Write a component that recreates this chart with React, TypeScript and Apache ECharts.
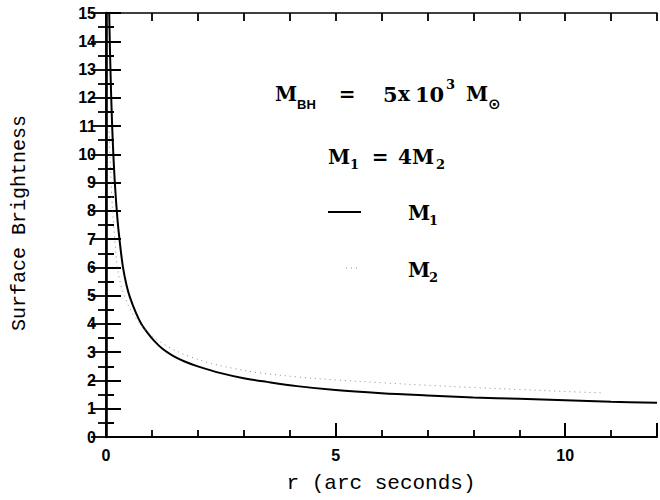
import React, { useEffect, useRef } from "react";
import * as echarts from "echarts";

// r (arc seconds) and surface brightness
const m1R = [0.05, 0.07, 0.1, 0.13, 0.16, 0.2, 0.25, 0.3, 0.37, 0.45, 0.52, 0.65, 0.77, 0.9, 1.05, 1.23, 1.45, 1.7, 2.0, 2.5, 3.0, 3.5, 4.16, 5, 6, 7, 8, 9, 10, 11, 12];
const m1V = [17.5, 15, 12.8, 11.2, 10, 8.8, 7.7, 6.9, 6.0, 5.35, 4.95, 4.4, 4.0, 3.7, 3.4, 3.12, 2.88, 2.68, 2.5, 2.26, 2.08, 1.95, 1.8, 1.66, 1.55, 1.47, 1.4, 1.35, 1.3, 1.25, 1.21];
const m2R = [0.07, 0.09, 0.12, 0.16, 0.2, 0.25, 0.32, 0.41, 0.52, 0.65, 0.77, 1.0, 1.37, 1.8, 2.3, 2.8, 3.3, 4.2, 5, 6, 7, 8, 9, 10, 10.8];
const m2V = [10.8, 9.8, 8.7, 7.6, 6.8, 6.0, 5.4, 4.95, 4.55, 4.2, 3.95, 3.58, 3.18, 2.86, 2.6, 2.42, 2.28, 2.12, 2.02, 1.92, 1.83, 1.75, 1.68, 1.61, 1.56];

const xMin = 0;
const xMax = 12;
const yMin = 0;
const yMax = 15;
const xLabelTicks = [0, 5, 10];

const xTitle = "r (arc seconds)";
const yTitle = "Surface Brightness";

const serifBold = "'DejaVu Serif'";
const tickFont = "'Liberation Sans', Arial, sans-serif";
const monoFont = "'Liberation Mono', monospace";

function txt(text: string, x: number, y: number, size: number, opts: any = {}) {
  return {
    type: "text",
    x,
    y,
    silent: true,
    style: {
      text,
      fill: "#000",
      fontSize: size,
      fontWeight: opts.weight ?? "bold",
      fontFamily: opts.family ?? serifBold,
      textAlign: opts.align ?? "left",
      textVerticalAlign: "middle",
    },
    rotation: opts.rotation ?? 0,
  };
}

export default function App() {
  const ref = useRef<HTMLDivElement>(null);
  useEffect(() => {
    if (!ref.current) return;
    const chart = echarts.init(ref.current, undefined, { renderer: "svg" });
    const m1 = m1R.map((r, i) => [r, m1V[i]]);
    const m2 = m2R.map((r, i) => [r, m2V[i]]);
    const blk = "#000";
    chart.setOption({
      animation: false,
      backgroundColor: "#fff",
      grid: { left: 106, top: 13, width: 557, height: 424, containLabel: false },
      xAxis: [
        {
          type: "value",
          position: "bottom",
          min: xMin,
          max: xMax,
          interval: 5,
          axisLine: { show: true, lineStyle: { color: blk, width: 2.2 } },
          axisTick: { show: true, inside: true, length: 14, lineStyle: { color: blk, width: 2 } },
          axisLabel: {
            show: true,
            margin: 10,
            color: blk,
            fontSize: 16,
            fontWeight: "bold",
            fontFamily: tickFont,
            formatter: (v: number) => (xLabelTicks.includes(v) ? String(v) : ""),
          },
          splitLine: { show: false },
        },
        {
          type: "value",
          position: "bottom",
          min: xMin,
          max: xMax,
          interval: 1,
          axisLine: { show: false },
          axisTick: { show: true, inside: true, length: 7, lineStyle: { color: blk, width: 1.8 } },
          axisLabel: { show: false },
          splitLine: { show: false },
        },
        {
          type: "value",
          position: "top",
          min: xMin,
          max: xMax,
          interval: 1,
          axisLine: { show: true, lineStyle: { color: blk, width: 1.5 } },
          axisTick: { show: true, inside: true, length: 8, lineStyle: { color: blk, width: 1.8 } },
          axisLabel: { show: false },
          splitLine: { show: false },
        },
      ],
      yAxis: [
        {
          type: "value",
          position: "left",
          min: yMin,
          max: yMax,
          interval: 1,
          axisLine: { show: true, lineStyle: { color: blk, width: 2.6 } },
          axisTick: { show: true, inside: true, length: 15, lineStyle: { color: blk, width: 2 } },
          minorTick: { show: true, splitNumber: 2, length: 8, lineStyle: { color: blk, width: 2 } },
          axisLabel: {
            show: true,
            margin: 10,
            color: blk,
            fontSize: 16,
            fontWeight: "bold",
            fontFamily: tickFont,
          },
          splitLine: { show: false },
          minorSplitLine: { show: false },
        },
        {
          type: "value",
          position: "right",
          min: yMin,
          max: yMax,
          interval: 1,
          axisLine: { show: true, lineStyle: { color: blk, width: 1.6 } },
          axisTick: { show: true, inside: true, length: 15, lineStyle: { color: blk, width: 1.8 } },
          minorTick: { show: true, splitNumber: 2, length: 8, lineStyle: { color: blk, width: 1.8 } },
          axisLabel: { show: false },
          splitLine: { show: false },
          minorSplitLine: { show: false },
        },
      ],
      series: [
        {
          name: "M1",
          type: "line",
          xAxisIndex: 0,
          yAxisIndex: 0,
          data: m1,
          showSymbol: false,
          smooth: 0.35,
          clip: true,
          lineStyle: { color: blk, width: 2 },
        },
        {
          name: "M2",
          type: "line",
          xAxisIndex: 0,
          yAxisIndex: 0,
          data: m2,
          showSymbol: false,
          smooth: 0.35,
          clip: true,
          lineStyle: { color: "#8a8a8a", width: 1, type: [1, 4] },
        },
      ],
      graphic: [
        // axis titles
        txt(xTitle, 381, 483, 21, { weight: "normal", family: monoFont, align: "center" }),
        txt(yTitle, 19, 223, 20, { weight: "normal", family: monoFont, align: "center", rotation: Math.PI / 2 }),
        // line 1: M_BH = 5x10^3 M_sun
        txt("M", 275, 94, 20),
        txt("BH", 297, 104, 13, { family: tickFont }),
        txt("=", 347, 94, 20, { align: "center" }),
        txt("5", 383, 94, 21),
        txt("x", 398, 94, 20),
        txt("10", 415, 94, 21),
        txt("3", 446, 84, 13),
        txt("M", 466, 94, 20),
        txt("\u2299", 488, 104, 15, { family: "'DejaVu Sans'" }),
        // line 2: M_1 = 4M_2
        txt("M", 328, 157, 20),
        txt("1", 350, 164, 13),
        txt("=", 380, 157, 20, { align: "center" }),
        txt("4M", 398, 157, 20),
        txt("2", 436, 164, 13),
        // legend
        {
          type: "line",
          silent: true,
          shape: { x1: 328, y1: 212, x2: 361, y2: 212 },
          style: { stroke: blk, lineWidth: 2 },
        },
        txt("M", 408, 213, 20),
        txt("1", 429, 220, 13),
        {
          type: "line",
          silent: true,
          shape: { x1: 346, y1: 268, x2: 360, y2: 268 },
          style: { stroke: "#8a8a8a", lineWidth: 1, lineDash: [1, 4] },
        },
        txt("M", 408, 270, 20),
        txt("2", 429, 277, 13),
      ],
    });
    return () => chart.dispose();
  }, []);
  return (
    <div
      ref={ref}
      style={{ position: "absolute", left: 0, top: 0, width: 660, height: 500 }}
    />
  );
}
